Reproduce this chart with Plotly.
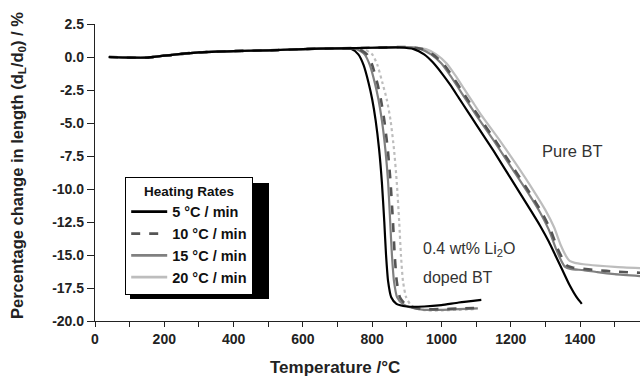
import plotly.graph_objects as go

# ---------------- data ----------------
series_names = ["5 °C / min", "10 °C / min", "15 °C / min", "20 °C / min"]

# Pure BT
pure_T_5 = [40, 100, 150, 200, 300, 400, 500, 600, 700, 800, 880, 920, 950, 975, 1000, 1025, 1050, 1075,
            1100, 1150, 1200, 1250, 1285, 1310, 1330, 1350, 1370, 1390, 1405]
pure_y_5 = [0.0, -0.05, -0.05, 0.1, 0.35, 0.45, 0.5, 0.6, 0.65, 0.7, 0.72, 0.6, 0.2, -0.4, -1.2, -2.1, -3.1, -4.1,
            -5.1, -7.1, -9.2, -11.3, -12.8, -14.0, -15.1, -16.2, -17.3, -18.2, -18.7]

pure_T_10 = [40, 100, 150, 200, 300, 400, 500, 600, 700, 800, 900, 945, 975, 1005, 1030, 1055, 1080, 1105,
             1155, 1205, 1255, 1290, 1315, 1335, 1352, 1362, 1378, 1410, 1450, 1500, 1575]
pure_y_10 = [0.0, -0.05, -0.05, 0.1, 0.35, 0.45, 0.5, 0.6, 0.65, 0.7, 0.75, 0.6, 0.2, -0.5, -1.4, -2.4, -3.4, -4.4,
             -6.3, -8.3, -10.3, -11.8, -13.1, -14.5, -15.4, -15.8, -15.95, -16.05, -16.15, -16.25, -16.35]

pure_T_15 = [40, 100, 150, 200, 300, 400, 500, 600, 700, 800, 900, 940, 970, 1000, 1025, 1050, 1075, 1100,
             1150, 1200, 1250, 1285, 1310, 1330, 1347, 1357, 1372, 1410, 1450, 1500, 1575]
pure_y_15 = [0.0, -0.05, -0.05, 0.1, 0.35, 0.45, 0.5, 0.6, 0.65, 0.7, 0.75, 0.6, 0.2, -0.5, -1.4, -2.4, -3.4, -4.4,
             -6.3, -8.3, -10.3, -11.8, -13.1, -14.5, -15.5, -15.9, -16.05, -16.15, -16.3, -16.45, -16.6]

pure_T_20 = [40, 100, 150, 200, 300, 400, 500, 600, 700, 800, 900, 955, 985, 1015, 1040, 1065, 1090, 1115,
             1165, 1215, 1265, 1300, 1325, 1345, 1360, 1370, 1385, 1410, 1450, 1500, 1575]
pure_y_20 = [0.0, -0.05, -0.05, 0.1, 0.35, 0.45, 0.5, 0.6, 0.65, 0.7, 0.75, 0.6, 0.2, -0.5, -1.4, -2.4, -3.4, -4.4,
             -6.2, -8.1, -10.1, -11.6, -12.9, -14.3, -15.1, -15.45, -15.6, -15.7, -15.8, -15.9, -16.0]

# 0.4 wt% Li2O doped BT
dop_T_5 = [40, 100, 150, 200, 300, 400, 500, 600, 700, 740, 760, 775, 790, 800, 810, 820, 828, 835, 840,
           846, 855, 870, 900, 950, 1000, 1050, 1115]
dop_y_5 = [0.0, -0.05, -0.05, 0.1, 0.35, 0.45, 0.5, 0.6, 0.65, 0.6, 0.2, -0.6, -2.0, -3.2, -4.8, -7.0, -9.5, -12.5, -15.0,
           -17.0, -18.2, -18.7, -18.9, -18.9, -18.8, -18.6, -18.4]

dop_T_10 = [40, 100, 150, 200, 300, 400, 500, 600, 700, 760, 785, 800, 815, 825, 835, 845, 853, 860, 865,
            871, 880, 895, 920, 950, 1000, 1050, 1105]
dop_y_10 = [0.0, -0.05, -0.05, 0.1, 0.35, 0.45, 0.5, 0.6, 0.65, 0.6, 0.2, -0.6, -2.0, -3.2, -4.8, -7.0, -9.5, -12.5, -15.0,
            -17.0, -18.2, -18.7, -19.0, -19.1, -19.1, -19.05, -19.0]

dop_T_15 = [40, 100, 150, 200, 300, 400, 500, 600, 700, 755, 778, 793, 808, 818, 828, 838, 846, 852, 857,
            863, 872, 888, 915, 950, 1000, 1050, 1105]
dop_y_15 = [0.0, -0.05, -0.05, 0.1, 0.35, 0.45, 0.5, 0.6, 0.65, 0.6, 0.2, -0.6, -2.0, -3.2, -4.8, -7.0, -9.5, -12.5, -15.0,
            -17.0, -18.2, -18.7, -19.0, -19.15, -19.15, -19.1, -19.05]

dop_T_20 = [40, 100, 150, 200, 300, 400, 500, 600, 700, 775, 800, 815, 830, 842, 853, 863, 871, 878, 883,
            889, 898, 912, 935, 960, 1000, 1050, 1100]
dop_y_20 = [0.0, -0.05, -0.05, 0.1, 0.35, 0.45, 0.5, 0.6, 0.65, 0.6, 0.2, -0.6, -2.0, -3.2, -4.8, -7.0, -9.5, -12.5, -15.0,
            -17.0, -18.2, -18.8, -19.1, -19.2, -19.2, -19.15, -19.1]

x_tickvals = [0, 200, 400, 600, 800, 1000, 1200, 1400]
x_ticktext = ["0", "200", "400", "600", "800", "1000", "1200", "1400"]
y_tickvals = [2.5, 0.0, -2.5, -5.0, -7.5, -10.0, -12.5, -15.0, -17.5, -20.0]
y_ticktext = ["2.5", "0.0", "-2.5", "-5.0", "-7.5", "-10.0", "-12.5", "-15.0", "-17.5", "-20.0"]

# ---------------- styles ----------------
colors = ["#000000", "#555555", "#808080", "#bdbdbd"]
widths = [2.2, 2.6, 2.2, 2.2]
dashes_pure = ["solid", "dash", "solid", "solid"]
dashes_dop = ["solid", "dash", "solid", "dot"]

FONT = "Arial, 'Liberation Sans', Helvetica, sans-serif"

fig = go.Figure()

pure = [(pure_T_5, pure_y_5), (pure_T_10, pure_y_10), (pure_T_15, pure_y_15), (pure_T_20, pure_y_20)]
dop = [(dop_T_5, dop_y_5), (dop_T_10, dop_y_10), (dop_T_15, dop_y_15), (dop_T_20, dop_y_20)]

order = [3, 2, 1, 0]
for i in order:
    T, y = dop[i]
    fig.add_trace(go.Scatter(x=T, y=y, mode="lines", name=series_names[i], legendgroup=series_names[i],
                             showlegend=False, line=dict(color=colors[i], width=widths[i],
                                                         dash=dashes_dop[i], shape="spline", smoothing=0.6)))
for i in order:
    T, y = pure[i]
    fig.add_trace(go.Scatter(x=T, y=y, mode="lines", name=series_names[i], legendgroup=series_names[i],
                             showlegend=False, line=dict(color=colors[i], width=widths[i],
                                                         dash=dashes_pure[i], shape="spline", smoothing=0.6)))
for i in range(4):
    fig.add_trace(go.Scatter(x=[None], y=[None], mode="lines", name=series_names[i],
                             legendgroup=series_names[i], showlegend=True,
                             line=dict(color=colors[i], width=2.8, dash=dashes_pure[i])))

L, T0, W, H = 95, 24, 545, 297  # plot area in px


def px2paper(px, py):
    return (px - L) / W, (T0 + H - py) / H


lx, ly = px2paper(125, 177)
sx0, sy0 = px2paper(130, 183)
sx1, sy1 = px2paper(269, 299)

fig.update_layout(
    width=640, height=382,
    margin=dict(l=L, r=640 - L - W, t=T0, b=382 - T0 - H, pad=0),
    paper_bgcolor="white", plot_bgcolor="white",
    font=dict(family=FONT, color="#222222"),
    showlegend=True,
    legend=dict(x=lx, y=ly, xanchor="left", yanchor="top",
                bgcolor="white", bordercolor="#000000", borderwidth=1.2,
                font=dict(size=14.5, family=FONT, color="#111111", weight="bold"),
                title=dict(text="<b>Heating Rates</b>", side="top center",
                           font=dict(size=13.5, family=FONT, color="#111111")),
                tracegroupgap=0, itemwidth=36),
    xaxis=dict(range=[0, 1573], showgrid=False, zeroline=False,
               showline=True, linecolor="#222222", linewidth=1.3,
               ticks="outside", ticklen=5, tickwidth=1.3, tickcolor="#222222",
               tickvals=x_tickvals, ticktext=x_ticktext,
               minor=dict(dtick=100, ticks="outside", ticklen=5, tickwidth=1.3, tickcolor="#222222"),
               tickfont=dict(size=14, family=FONT, color="#222222", weight="bold")),
    yaxis=dict(range=[-20, 2.5], showgrid=False, zeroline=False,
               showline=True, linecolor="#222222", linewidth=1.3,
               ticks="outside", ticklen=7, tickwidth=1.3, tickcolor="#222222",
               tickvals=y_tickvals, ticktext=y_ticktext,
               tickfont=dict(size=14, family=FONT, color="#222222", weight="bold")),
    shapes=[dict(type="rect", xref="paper", yref="paper", x0=sx0, y0=sy0, x1=sx1, y1=sy1,
                 fillcolor="#000000", line=dict(width=0), layer="above")],
)

tx, ty = px2paper(335, 367)
yx, yy = px2paper(18, 166)
fig.add_annotation(text="<b>Temperature /°C</b>", xref="paper", yref="paper", x=tx, y=ty,
                   showarrow=False, font=dict(size=17, family=FONT, color="#222222"),
                   xanchor="center", yanchor="middle")
fig.add_annotation(text="<b>Percentage change in length (d<sub>L</sub>/d<sub>0</sub>) / %</b>",
                   xref="paper", yref="paper", x=yx, y=yy, textangle=-90,
                   showarrow=False, font=dict(size=16.5, family=FONT, color="#222222"),
                   xanchor="center", yanchor="middle")
fig.add_annotation(text="Pure BT", x=1285, y=-7.1, xanchor="left", yanchor="middle",
                   showarrow=False, font=dict(size=16.5, family=FONT, color="#333333"))
fig.add_annotation(text="0.4 wt% Li<sub>2</sub>O", x=940, y=-14.6, xanchor="left", yanchor="middle",
                   showarrow=False, font=dict(size=16, family=FONT, color="#333333"))
fig.add_annotation(text="doped BT", x=940, y=-16.7, xanchor="left", yanchor="middle",
                   showarrow=False, font=dict(size=16, family=FONT, color="#333333"))

fig.write_html("out.html")
